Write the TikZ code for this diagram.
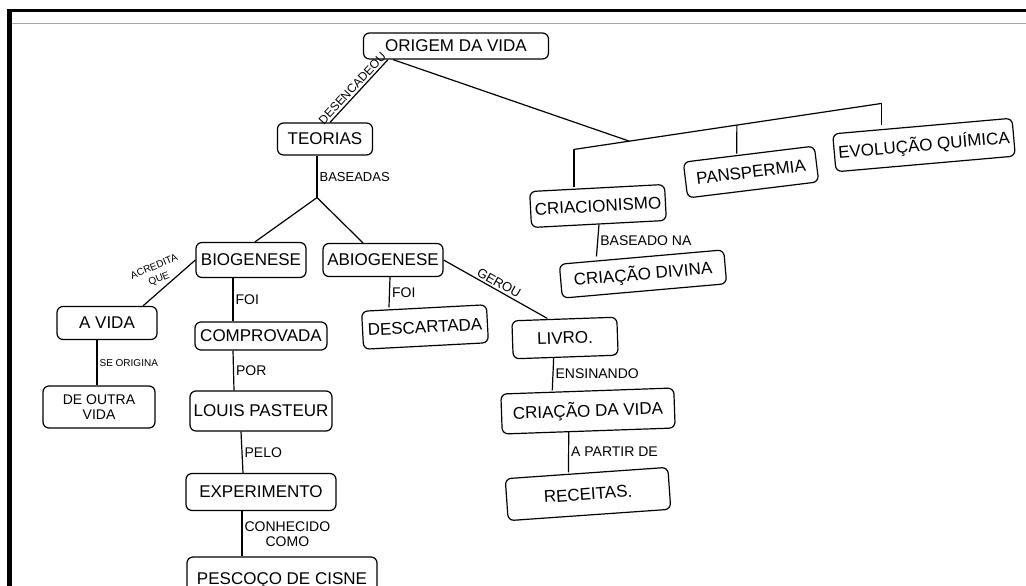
\documentclass[tikz,border=0pt]{standalone}
\usepackage{fontspec}
\setmainfont{Liberation Sans}
\usetikzlibrary{positioning,calc}

\begin{document}
\begin{tikzpicture}[
    x=1pt, y=-1pt,
    on grid,
    line width=1.2pt,
    c/.style ={
        draw=black,
        rounded corners=6pt,
        inner sep=3pt,
        font=\fontsize{17}{19}\selectfont
    },
    liga/.style ={
        font=\fontsize{14}{15}\selectfont,
        inner sep=2pt,
        align=center
    }
    ]

    \useasboundingbox (0,0) rectangle (1026,586);
    \clip (0,0) rectangle (1026,586);
    \draw[line width=3pt] (7,10.5) -- (1026,10.5);
    \draw[line width=5pt] (9.5,9) -- (9.5,586);
    \draw[gray!70, line width=1pt] (12,24) -- (1026,24);

    \node[c, minimum width=185pt, minimum height=26pt] (origem) at (456,46) {ORIGEM DA VIDA};
    \node[c, minimum width=95pt, minimum height=32pt] (teorias) [below left=93pt and 131pt of origem] {TEORIAS};
    \node[c, minimum width=110pt, minimum height=35pt] (biogenese) [below left=121pt and 74pt of teorias] {BIOGENESE};
    \node[c, minimum width=120pt, minimum height=33pt] (abiogenese) [right=132pt of biogenese] {ABIOGENESE};
    \node[c, minimum width=100pt, minimum height=33pt] (avida) [below left=63pt and 144pt of biogenese] {A VIDA};
    \node[c, minimum width=112pt, minimum height=42pt, align=center, font=\fontsize{14}{15}\selectfont] (deoutra) [below left=84pt and 8pt of avida] {DE OUTRA\\VIDA};
    \node[c, minimum width=132pt, minimum height=28pt] (comprovada) [below right=76pt and 10pt of biogenese] {COMPROVADA};
    \node[c, minimum width=142pt, minimum height=40pt] (pasteur) [below=75pt of comprovada] {LOUIS PASTEUR};
    \node[c, minimum width=150pt, minimum height=37pt] (experimento) [below=81pt of pasteur] {EXPERIMENTO};
    \node[c, minimum width=190pt, minimum height=46pt] (pescoco) [below right=88pt and 21pt of experimento] {PESCOÇO DE CISNE};
    \node[c, minimum width=125pt, minimum height=38pt, rotate=3] (descartada) [below right=67pt and 42pt of abiogenese] {DESCARTADA};
    \node[c, minimum width=105pt, minimum height=38pt, rotate=2] (livro) [below right=78pt and 182pt of abiogenese] {LIVRO.};
    \node[c, minimum width=173pt, minimum height=40pt, rotate=2] (criacao) [below right=73pt and 23pt of livro] {CRIAÇÃO DA VIDA};
    \node[c, minimum width=163pt, minimum height=42pt, rotate=4] (receitas) [below=83pt of criacao] {RECEITAS.};
    \node[c, minimum width=135pt, minimum height=36pt, rotate=3] (criacionismo) [below right=160pt and 142pt of origem] {CRIACIONISMO};
    \node[c, minimum width=132pt, minimum height=36pt, rotate=7] (panspermia) [above right=34pt and 153pt of criacionismo] {PANSPERMIA};
    \node[c, minimum width=180pt, minimum height=38pt, rotate=5] (evolucao) [above right=27pt and 173pt of panspermia] {EVOLUÇÃO QUÍMICA};
    \node[c, minimum width=165pt, minimum height=34pt, rotate=5] (divina) [below right=68pt and 45pt of criacionismo] {CRIAÇÃO DIVINA};

    \draw ([xshift=5pt]teorias.north) -- node[liga, pos=0.47, sloped, above, font=\fontsize{12}{13}\selectfont] {DESENCADEOU} ([xshift=-68pt]origem.south);

    \coordinate (barraesq) at ([xshift=-23pt, yshift=38pt]criacionismo.north);
    \coordinate (barradir) at ([xshift=-41pt, yshift=22pt]evolucao.north);
    \coordinate (barrameio) at ($(barraesq)!0.53!(barradir)$);
    \draw (barraesq) -- (barradir);
    \draw ([xshift=-63pt]origem.south) -- ($(barraesq)!0.18!(barradir)$);
    \draw (barraesq) -- ([xshift=-23pt]criacionismo.north);
    \draw (barrameio) -- ([xshift=-12pt]panspermia.north);
    \draw (barradir) -- ([xshift=-41pt]evolucao.north);

    \coordinate (bifurca) at ([xshift=-8pt, yshift=-42pt]teorias.south);
    \draw ([xshift=-8pt]teorias.south) -- node[liga, right, font=\fontsize{13}{14}\selectfont] {BASEADAS} (bifurca);
    \draw ([xshift=4pt]biogenese.north) -- (bifurca) -- ([xshift=-20pt]abiogenese.north);

    \draw ([xshift=36pt]avida.north) -- node[liga, midway, rotate=22, anchor=south, xshift=-8pt, font=\fontsize{10}{13}\selectfont] {ACREDITA\\QUE} (biogenese.west);
    \draw ([xshift=-10pt]avida.south) -- node[liga, right, font=\fontsize{10}{11}\selectfont] {SE ORIGINA} ([xshift=-2pt]deoutra.north);
    \draw (abiogenese.east) -- node[liga, sloped, above, font=\fontsize{13}{14}\selectfont] {GEROU} ([xshift=-17pt]livro.north);

    \foreach \src/\sx/\dst/\dx/\txt in {biogenese/-18/comprovada/-28/FOI, comprovada/-28/pasteur/-27/POR, pasteur/-20/experimento/-18/PELO, experimento/-19/pescoco/-40/{CONHECIDO\\COMO}, abiogenese/7/descartada/-35/FOI, livro/-12/criacao/-35/ENSINANDO, criacao/-20/receitas/-18/A PARTIR DE, criacionismo/0/divina/-45/BASEADO NA}
        \draw ([xshift=\sx pt]\src.south) -- node[liga, right] {\txt} ([xshift=\dx pt]\dst.north);
\end{tikzpicture}
\end{document}
